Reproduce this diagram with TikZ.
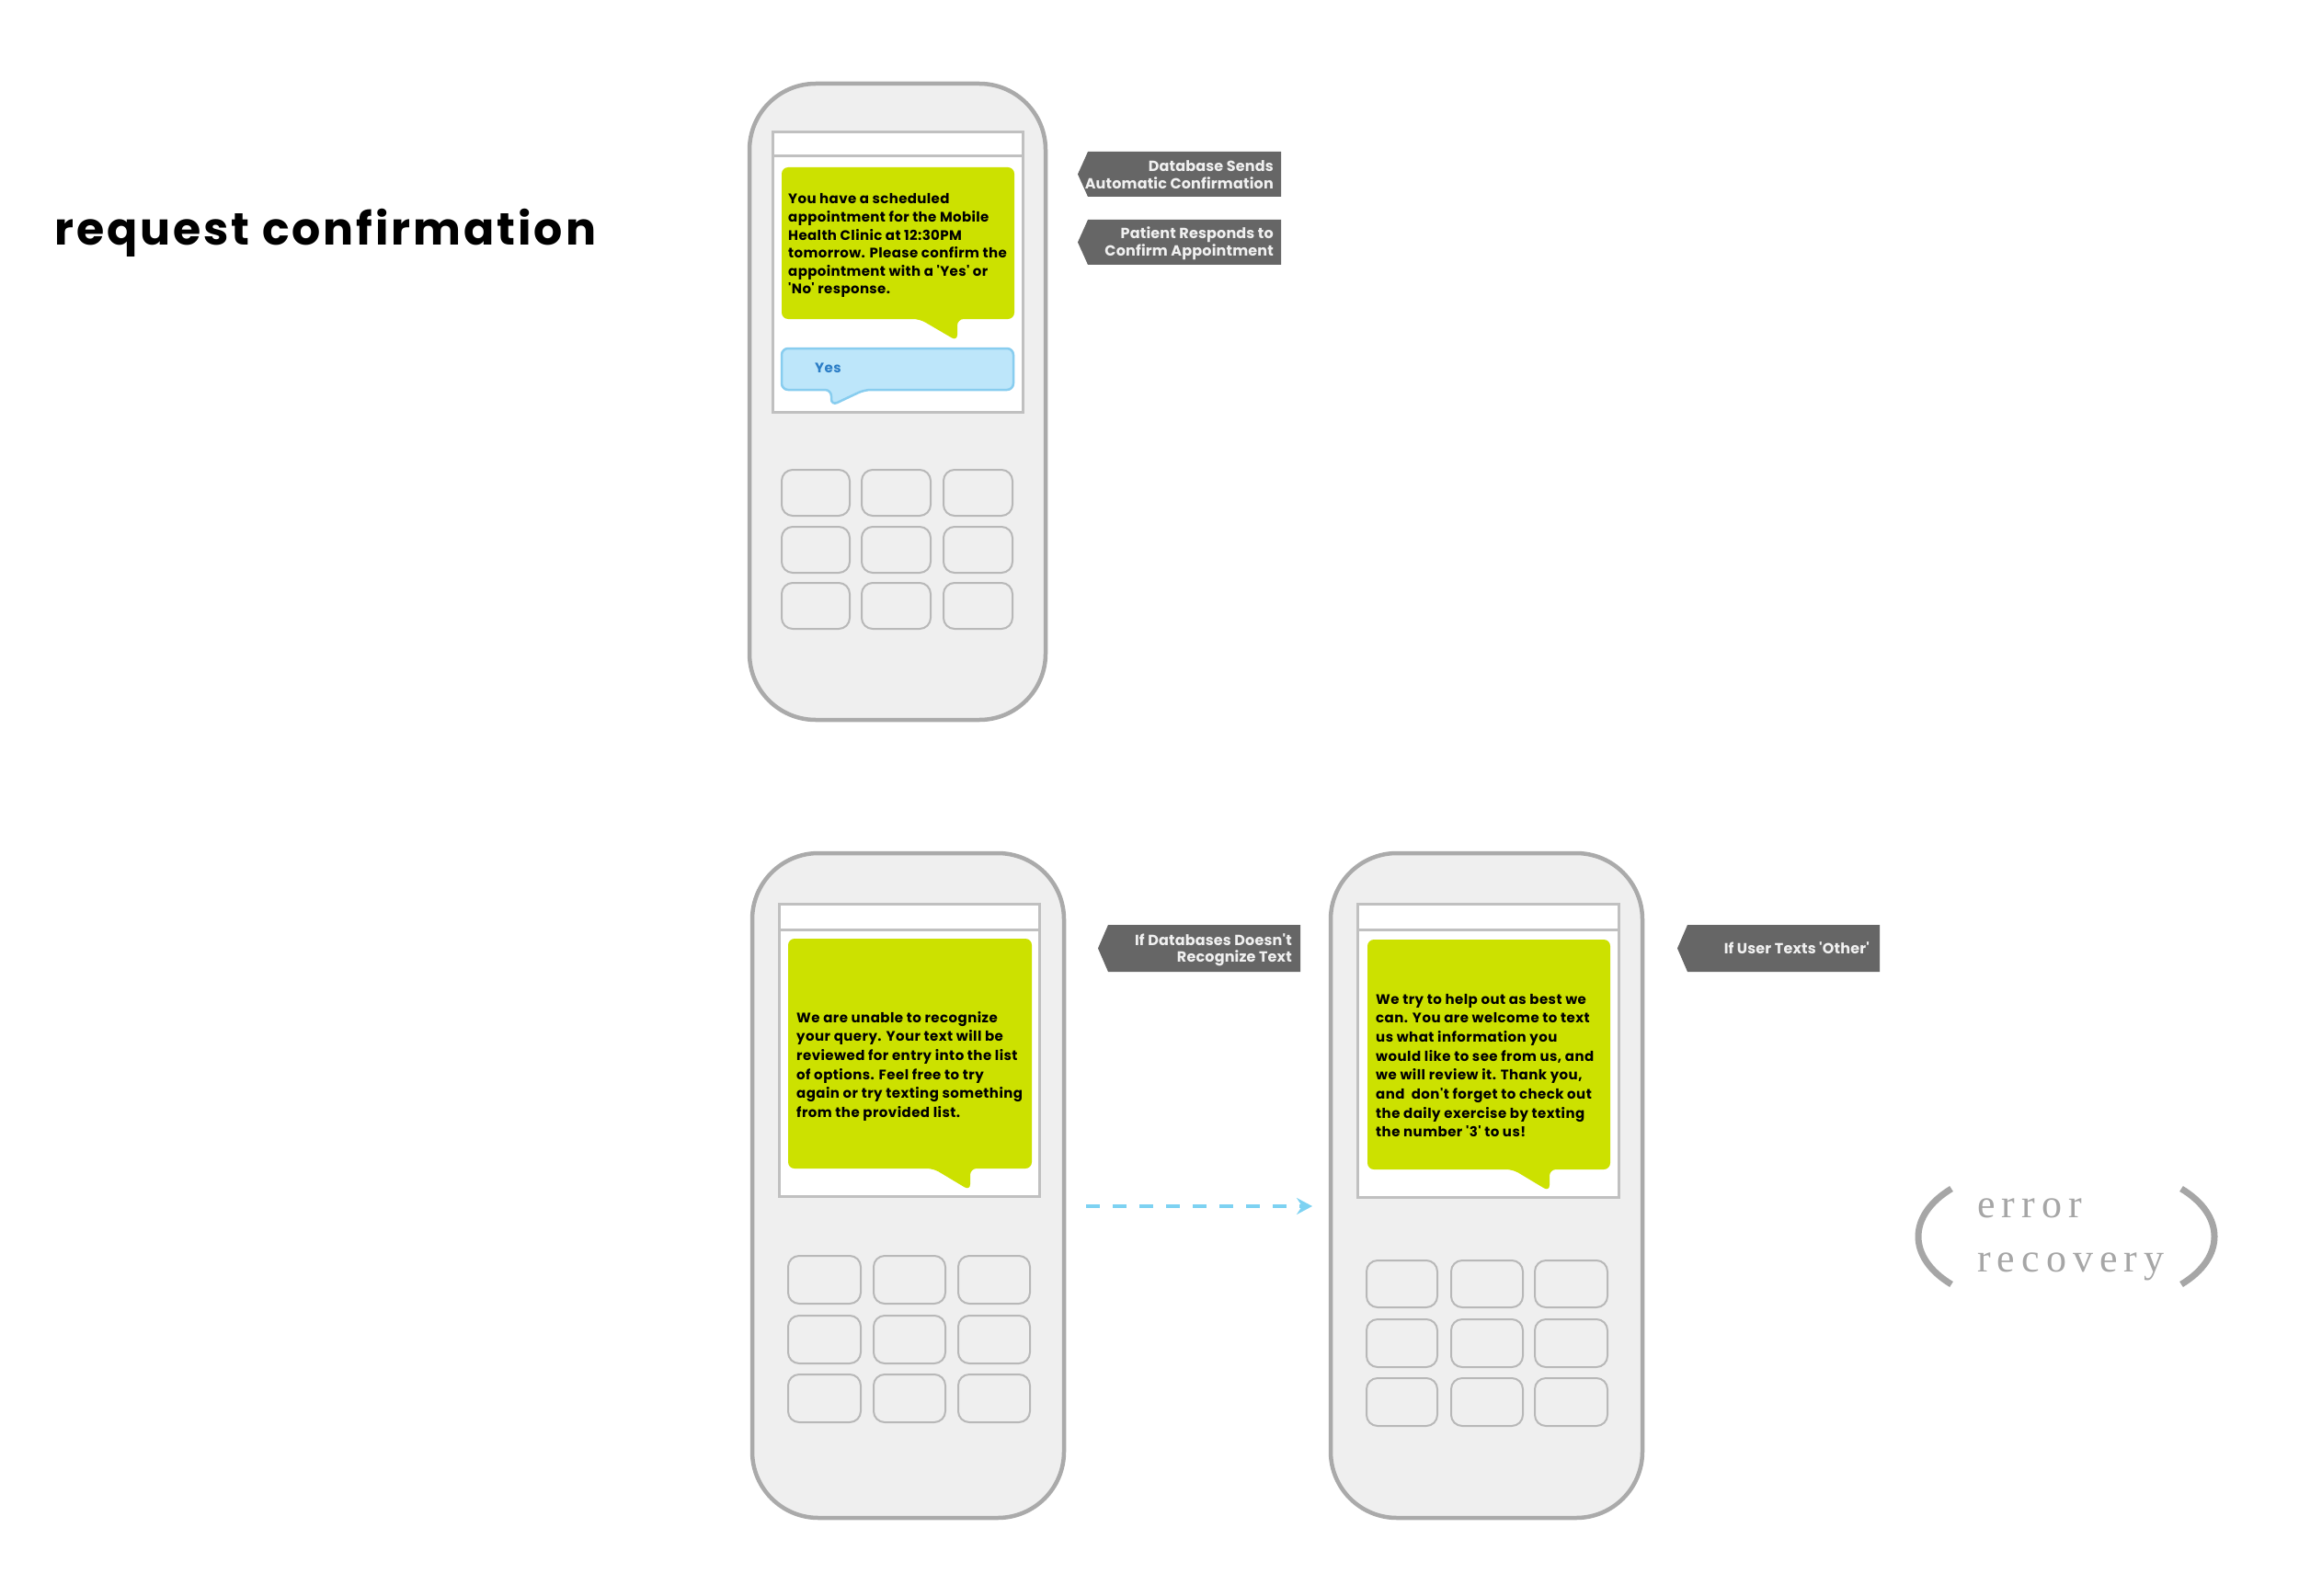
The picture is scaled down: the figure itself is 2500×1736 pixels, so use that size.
\documentclass[tikz,border=0pt]{standalone}
\usepackage{fontspec}
\setmainfont{Poppins}
\newfontfamily\titlefont{Poppins}[LetterSpace=6]
\newfontfamily\msgfont{Poppins}[LetterSpace=2.5]
\newfontfamily\msgfontb{Poppins}[LetterSpace=3]
\newfontfamily\tagfont{Poppins}[LetterSpace=1]
\newfontfamily\serifer{Liberation Serif}[LetterSpace=16]
\usetikzlibrary{arrows.meta}
\definecolor{phonefill}{HTML}{EFEFEF}
\definecolor{phoneline}{HTML}{AAAAAA}
\definecolor{screenline}{HTML}{C0C0C0}
\definecolor{keyline}{HTML}{B8B8B8}
\definecolor{bubblegreen}{HTML}{CCE100}
\definecolor{bubbleblue}{HTML}{BDE6FA}
\definecolor{blueline}{HTML}{88CDEF}
\definecolor{bluetext}{HTML}{2B7DC6}
\definecolor{labelgray}{HTML}{666666}
\definecolor{labeltext}{HTML}{F0F0F0}
\definecolor{arrowblue}{HTML}{7DD2F2}
\definecolor{softgray}{HTML}{A6A6A6}
\begin{document}
\begin{tikzpicture}[x=1pt,y=-1pt,
  phone/.style={draw=phoneline, line width=4.5pt, fill=phonefill, rounded corners=72pt},
  screen/.style={draw=screenline, line width=3pt, fill=white},
  screenrule/.style={draw=screenline, line width=3pt},
  keybox/.style={draw=keyline, line width=2pt, fill=phonefill, rounded corners=12pt},
  greenbubble/.style={fill=bubblegreen, rounded corners=7pt},
  bluebubble/.style={fill=bubbleblue, draw=blueline, line width=2.5pt, rounded corners=7pt},
  tagshape/.style={fill=labelgray},
  msg/.style={inner sep=0pt, anchor=base west, font=\msgfont\bfseries\fontsize{15}{19.6}\selectfont},
  msgb/.style={inner sep=0pt, anchor=base west, font=\msgfontb\bfseries\fontsize{15}{20.7}\selectfont},
  tagtext/.style={inner sep=0pt, anchor=base east, text=labeltext, font=\tagfont\bfseries\fontsize{16}{18.5}\selectfont},
  errtext/.style={inner sep=0pt, anchor=base west, text=softgray, font=\serifer\fontsize{44}{50}\selectfont},
  bracket/.style={draw=softgray, line width=7pt},
  flow/.style={draw=arrowblue, line width=3.5pt, dash pattern=on 15pt off 14pt, -{Stealth[length=17pt,width=18pt,inset=6pt]}}
]
\fill[white] (0,0) rectangle (2500,1736);
\useasboundingbox (0,0) rectangle (2500,1736);

% title
\node[inner sep=0pt, anchor=base west, font=\titlefont\bfseries\fontsize{49}{56}\selectfont] (title) at (59,267) {request confirmation};

% ---------- phone 1 ----------
\draw[phone] (815,91) rectangle (1137,783);
\draw[screen] (840,144) rectangle (1112,448);
\draw[screenrule] (840,170) -- (1112,170);
\foreach \xa/\xb in {850/924,937/1012,1026/1101}
  \foreach \ya/\yb in {511/561,573/623,634/684}
    \draw[keybox] (\xa,\ya) rectangle (\xb,\yb);
\fill[greenbubble] (850,182) -- (1103,182) -- (1103,347) -- (1041,347) -- (1041,371) -- (1000,347) -- (850,347) -- cycle;
\node[msg] (m1) at (857,222) {\parbox[t]{300pt}{\raggedright You have a scheduled\\appointment for the Mobile\\Health Clinic at 12:30PM\\tomorrow. Please confirm the\\appointment with a 'Yes' or\\'No' response.}};
\draw[bluebubble] (850,379) -- (1102,379) -- (1102,424) -- (940,424) -- (904,441) -- (904,424) -- (850,424) -- cycle;
\node[msg, text=bluetext] (yes) at (886,405) {Yes};

% tags phone 1
\fill[tagshape] (1183,165) -- (1393,165) -- (1393,214) -- (1183,214) -- (1172,189.5) -- cycle;
\node[tagtext] (t1) at (1385,187) {\parbox[t]{300pt}{\raggedleft Database Sends\\Automatic Confirmation}};
\fill[tagshape] (1183,239) -- (1393,239) -- (1393,288) -- (1183,288) -- (1172,263.5) -- cycle;
\node[tagtext] (t2) at (1385,260) {\parbox[t]{300pt}{\raggedleft Patient Responds to\\Confirm Appointment}};

% ---------- phone 2 ----------
\draw[phone] (818,928) rectangle (1157,1651);
\draw[screen] (847,983) rectangle (1130,1301);
\draw[screenrule] (847,1011) -- (1130,1011);
\foreach \xa/\xb in {857/936,950/1028,1042/1120}
  \foreach \ya/\yb in {1366/1418,1431/1483,1495/1547}
    \draw[keybox] (\xa,\ya) rectangle (\xb,\yb);
\fill[greenbubble] (857,1021) -- (1122,1021) -- (1122,1271) -- (1055,1271) -- (1055,1295) -- (1015,1271) -- (857,1271) -- cycle;
\node[msgb] (m2) at (866,1112) {\parbox[t]{300pt}{\raggedright We are unable to recognize\\your query. Your text will be\\reviewed for entry into the list\\of options. Feel free to try\\again or try texting something\\from the provided list.}};
\fill[tagshape] (1205,1006) -- (1414,1006) -- (1414,1057) -- (1205,1057) -- (1194,1031.5) -- cycle;
\node[tagtext] (t3) at (1405,1028) {\parbox[t]{300pt}{\raggedleft If Databases Doesn't\\Recognize Text}};

% ---------- phone 3 ----------
\draw[phone] (1447,928) rectangle (1786,1651);
\draw[screen] (1476,983) rectangle (1760,1302);
\draw[screenrule] (1476,1011) -- (1760,1011);
\foreach \xa/\xb in {1486/1563,1578/1656,1669/1748}
  \foreach \ya/\yb in {1371/1422,1435/1487,1499/1551}
    \draw[keybox] (\xa,\ya) rectangle (\xb,\yb);
\fill[greenbubble] (1487,1022) -- (1751,1022) -- (1751,1272) -- (1685,1272) -- (1685,1296) -- (1645,1272) -- (1487,1272) -- cycle;
\node[msgb] (m3) at (1496,1092) {\parbox[t]{300pt}{\raggedright We try to help out as best we\\can. You are welcome to text\\us what information you\\would like to see from us, and\\we will review it. Thank you,\\and\ \ don't forget to check out\\the daily exercise by texting\\the number '3' to us!}};
\fill[tagshape] (1835,1006) -- (2044,1006) -- (2044,1057) -- (1835,1057) -- (1824,1031.5) -- cycle;
\node[tagtext] (t4) at (2033,1037) {If User Texts 'Other'};

% arrow between phones
\coordinate (arrS) at (1181,1312);
\coordinate (arrE) at (1427,1312);
\draw[flow] (arrS) -- (arrE);

% error recovery
\draw[bracket] (2122,1293) .. controls (2074,1322) and (2074,1368) .. (2122,1397);
\draw[bracket] (2372,1293) .. controls (2420,1322) and (2420,1368) .. (2372,1397);
\node[errtext] (e1) at (2150,1324) {error};
\node[errtext] (e2) at (2150,1383) {recovery};
\end{tikzpicture}
\end{document}
